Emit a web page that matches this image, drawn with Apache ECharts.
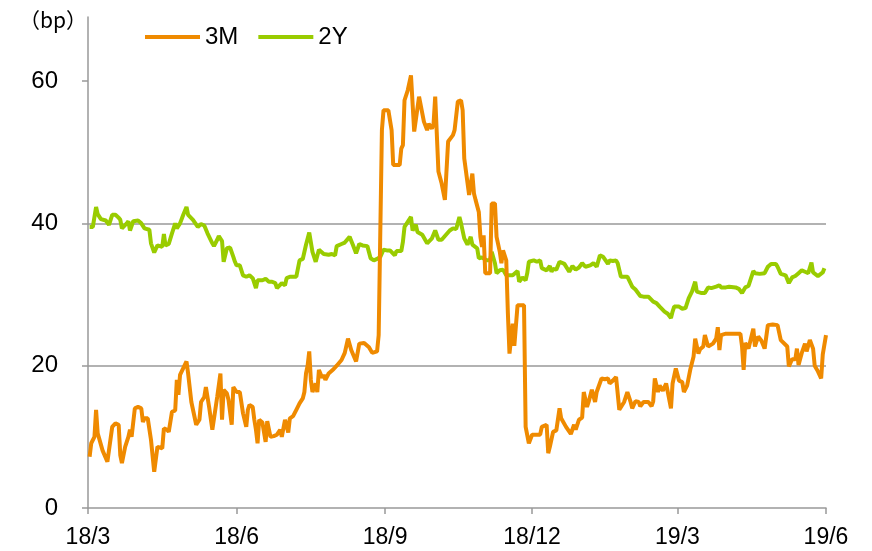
<!DOCTYPE html>
<html>
<head>
<meta charset="utf-8">
<script src="https://cdn.jsdelivr.net/npm/echarts@6/dist/echarts.min.js"></script>
<style>
html,body{margin:0;padding:0;background:#fff;}
#chart{width:872px;height:551px;}
</style>
</head>
<body>
<div id="chart"></div>
<script>
// x values: days since 2018-03-01
const tickDays = [0, 92, 184, 275, 365, 457];
const tickLabels = ['18/3', '18/6', '18/9', '18/12', '19/3', '19/6'];
const yTicks = [0, 20, 40, 60];
const unitLabel = '（bp）';
const seriesNames = ['3M', '2Y'];

const days3M = [1,2,4,5,6,9,12,15,17,19,20,21,23,25,26,27,29,31,33,34,35,37,39,41,43,46,47,49,50,52,54,55,56,57,58,61,62,64,67,69,70,72,73,75,77,78,80,82,83,84,86,87,89,90,92,
94,95,96,98,99,100,102,103,104,105,106,107,108,110,111,113,115,117,119,120,122,123,124,125,127,129,131,132,133,134,135,136,137,138,139,141,142,143,145,146,147,149,150,152,154,157,159,161,163,166,168,171,174,176,179,180,181,
182,183,186,188,189,193,194,195,196,198,200,202,205,208,210,211,213,214,215,217,219,221,223,226,227,229,231,232,233,236,238,239,240,242,243,244,245,246,249,250,252,253,255,256,257,259,260,261,262,263,264,266,270,
271,272,273,275,280,281,284,285,286,288,290,292,293,294,296,299,301,302,304,306,307,309,310,312,314,315,318,320,322,323,325,327,329,332,334,336,337,339,341,342,344,347,349,350,351,353,354,356,358,361,362,364,366,368,369,371,
373,375,376,378,379,381,382,384,385,387,389,390,391,392,395,400,404,405,406,407,409,412,413,415,417,419,421,424,427,429,433,434,436,438,439,440,442,444,445,447,449,450,452,454,455,456,457];
const values3M = [7.2,9.1,10,13.8,10.5,8.1,6.5,11.4,11.9,11.7,7.4,6.3,8.6,10,11,10,14,14.2,14,12.1,12.6,12.6,9.6,5.1,8.6,8.4,11.2,11,10.7,13.5,13.7,18,15.9,18.7,18.9,20.6,18.9,14.9,11.7,12.4,14.9,15.6,17,14.2,11,11.1,15.6,18.9,12.4,16.6,16.1,15.2,11.7,17,16.3,
16.3,16.5,13.3,11.4,13.8,14.5,14.2,12.4,11,9.1,12.4,12.2,12,9.3,12.2,10,10.1,10.3,11,10,12.4,12.3,10.6,12.6,12.9,13.8,14.7,14.5,15.4,16.3,18.9,20,22,18,16.3,17.5,16.3,19.4,18.3,18.7,18,18.9,18.7,19.5,20,20.8,21.8,23.8,22.2,20.6,23.1,23.2,22.6,21.8,22,24.3,24.4,
53.1,55.9,55.9,53.1,48.2,48.2,50.5,51,57.3,58.7,60.8,52.9,57.8,54.3,53.1,54,53.3,54,57.8,47.3,45.6,43.3,51.5,52.4,53.1,57.1,57.3,55.9,49.1,44,47,44.2,43.3,41.6,38.1,36.7,38.3,33,33,42.8,42.8,38.1,36,34.4,36.2,34.8,27.4,21.7,23.8,25.9,22.8,28.5,28.5,
11.4,11.3,9.1,10.3,10.3,11.4,11.7,7.7,8.6,10.7,10.9,14,12.6,12.6,11.4,10.4,11.7,11,12.4,12.7,16.3,14.2,14.9,16.6,14.9,16.3,18.2,18.1,18.2,17.5,17.9,18.4,13.8,14.9,16.3,14.9,14,15,14.9,14.3,14.9,14.9,14.3,15,18.2,16.3,17.2,16.5,17.5,14,17.5,19.6,17.9,17.7,16.3,17.2,
19.5,21.3,23.8,21.7,22.3,22.7,24.3,22.7,22.7,23.1,23.8,25.4,22.2,24.3,24.5,24.5,24.5,22.7,19.4,23.2,22.4,25.2,22.7,24.1,23.5,22.4,25.7,25.8,25.7,23.6,22.7,19.9,20.9,20.9,22.4,20.1,21.8,23.1,22,23.6,22.4,20,19.2,18.2,21.6,21.8,24.3];

const days2Y = [1,3,5,6,8,11,13,15,17,19,20,21,24,25,26,28,31,33,35,38,39,41,43,46,47,48,50,52,54,55,57,59,61,62,65,68,70,72,74,77,78,80,81,83,84,86,88,90,91,92,
94,96,98,100,102,104,105,108,110,112,114,116,117,120,122,123,125,127,129,131,133,135,137,139,141,143,146,149,151,153,154,157,159,162,164,166,168,170,173,175,177,179,181,183,185,187,190,191,194,195,196,198,200,201,203,204,207,210,213,215,217,219,
224,226,228,230,231,233,235,237,238,241,242,244,247,249,250,252,253,255,257,259,260,263,266,267,269,271,272,273,276,278,280,281,284,286,287,288,290,292,295,296,298,300,302,304,306,308,311,313,315,317,319,322,323,325,327,328,330,334,335,337,339,342,344,347,350,352,354,357,359,361,362,363,366,368,370,
372,374,376,377,380,382,384,386,389,391,392,395,397,401,403,405,407,409,412,413,416,419,421,423,426,427,429,432,434,436,438,440,442,444,446,448,449,452,455,456];
const values2Y = [39.5,39.5,42.3,41.3,40.6,40.4,39.8,41.2,41.2,40.8,40.5,39.3,40,40.3,39,40.3,40.4,40,39.3,39.1,37.2,35.9,36.9,36.7,38.5,36.9,37.1,38.6,40,39.3,40,41.2,42.3,41.2,40.5,39.5,39.9,39.7,38.6,37.2,36.8,37.7,38.2,37.5,34.6,36.5,36.6,35.3,34.6,34.1,
34.1,32.7,32.5,32.7,32.3,30.9,32,32,32.2,31.8,31.8,31.6,30.9,31.6,31.3,32.3,32.5,32.5,32.5,34.8,35,37,38.7,36,34.6,36.3,35.7,35.6,35.7,35.5,36.8,37.1,37.3,38.1,37,35.8,37.1,36.9,36.8,35.1,34.8,35,35.3,36.3,36.2,36.2,35.5,36.1,36.1,37.4,39.5,40.2,40.9,39,39.8,38.8,38.4,37.2,37.9,39,37.7,37.7,
39,39.3,39.2,40.9,40,37.9,37,38.1,37,36.5,35.1,35.2,34.8,34.8,36,34.4,33,33.4,33.5,32.7,32.5,32.7,33.3,31.8,32.4,32,33,34.6,34.8,34.6,34.8,33.7,33.4,34,33.2,33.6,33.5,34.6,34.3,34.1,33.2,34,33.5,33.8,34.4,33.9,34.1,34.4,33.9,35.5,35.3,34.3,34.8,34.7,34.8,34.4,32.5,32.5,32.3,31.1,30.7,29.8,29.7,29.7,29,28.8,28.3,27.6,27.3,26.7,27.6,28.3,28.3,28,28.1,
29.5,30.4,31.8,30.4,30.2,30.2,31,30.9,31.1,31.3,31,31,31.1,31,30.8,30.2,31,31.2,33.3,33,32.9,33,33.9,34.3,34.3,33.9,32.9,32.7,31.6,32.4,32.6,33,33.4,33.2,33,34.5,33.1,32.6,33.1,33.7];

const pair = (d, v) => d.map((x, i) => [x, v[i]]);

const chart = echarts.init(document.getElementById('chart'), null, {renderer: 'canvas'});
const FONT = 'Liberation Sans, Arial, sans-serif';
chart.setOption({
  animation: false,
  backgroundColor: '#ffffff',
  textStyle: {fontFamily: FONT, color: '#000'},
  grid: {left: 88, right: 46, top: 17, bottom: 43, containLabel: false},
  legend: {
    left: 140, top: 20,
    itemWidth: 55, itemHeight: 4, itemGap: 20,
    icon: 'rect',
    textStyle: {fontSize: 24, color: '#000', fontFamily: FONT},
    data: seriesNames
  },
  graphic: [{
    type: 'text', left: 19, top: 10,
    style: {text: unitLabel, fontSize: 21, fill: '#000', fontFamily: 'Noto Sans CJK SC, sans-serif'}
  }],
  xAxis: {
    type: 'value', min: 0, max: 457,
    axisLine: {show: true, lineStyle: {color: '#999', width: 1.5}},
    axisTick: {show: true, length: 6, lineStyle: {color: '#999', width: 1.5}, customValues: tickDays},
    axisLabel: {
      customValues: tickDays, margin: 18, fontSize: 23, color: '#000', fontFamily: FONT,
      formatter: v => tickLabels[tickDays.indexOf(v)] || ''
    },
    splitLine: {show: false}
  },
  yAxis: {
    type: 'value', min: 0, max: 69,
    axisLine: {show: true, lineStyle: {color: '#999', width: 1.5}},
    axisTick: {show: true, length: 6, lineStyle: {color: '#999', width: 1.5}, customValues: yTicks},
    axisLabel: {customValues: yTicks, margin: 30, fontSize: 24, color: '#000', fontFamily: FONT},
    splitLine: {show: true, showMinLine: false, showMaxLine: false, lineStyle: {color: '#999', width: 1.5}}
  },
  series: [
    {name: seriesNames[0], type: 'line', data: pair(days3M, values3M), showSymbol: false, symbol: 'none',
     lineStyle: {color: '#EF8A00', width: 4}, itemStyle: {color: '#EF8A00'}, z: 3},
    {name: seriesNames[1], type: 'line', data: pair(days2Y, values2Y), showSymbol: false, symbol: 'none',
     lineStyle: {color: '#99CC00', width: 4}, itemStyle: {color: '#99CC00'}, z: 2}
  ]
});
</script>
</body>
</html>
